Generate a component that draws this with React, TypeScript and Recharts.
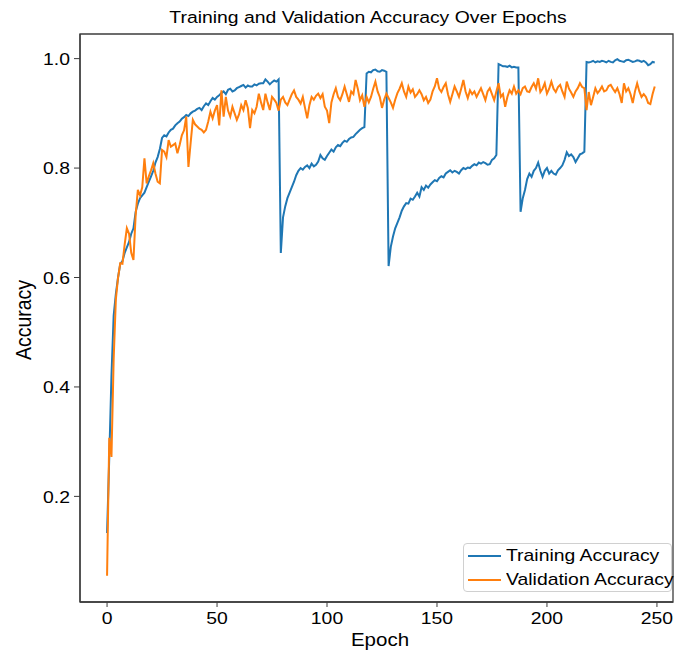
import { Legend, Line, LineChart, ReferenceArea, XAxis, YAxis } from "recharts"

// one value per epoch (0..249)
const trainAccuracy = [
  0.133, 0.27, 0.42, 0.53, 0.57, 0.6, 0.625, 0.63, 0.645, 0.655,
  0.665, 0.68, 0.69, 0.72, 0.735, 0.745, 0.75, 0.755, 0.765, 0.775,
  0.785, 0.795, 0.81, 0.82, 0.835, 0.855, 0.86, 0.858, 0.865, 0.87,
  0.872, 0.878, 0.882, 0.885, 0.89, 0.893, 0.897, 0.895, 0.9, 0.903,
  0.905, 0.908, 0.91, 0.906, 0.913, 0.918, 0.915, 0.922, 0.928, 0.925,
  0.93, 0.933, 0.937, 0.94, 0.935, 0.943, 0.945, 0.94, 0.942, 0.946,
  0.948, 0.95, 0.952, 0.947, 0.951, 0.949, 0.949, 0.953, 0.951, 0.954,
  0.955, 0.955, 0.962, 0.958, 0.953, 0.957, 0.96, 0.958, 0.962, 0.645,
  0.71, 0.73, 0.745, 0.755, 0.765, 0.775, 0.787, 0.795, 0.8, 0.797,
  0.802, 0.805, 0.8, 0.808, 0.803, 0.806, 0.812, 0.824, 0.818, 0.815,
  0.822, 0.828, 0.834, 0.83, 0.838, 0.842, 0.84, 0.846, 0.85, 0.848,
  0.853, 0.856, 0.857, 0.862, 0.866, 0.87, 0.873, 0.875, 0.973, 0.976,
  0.975, 0.979, 0.98, 0.977, 0.976, 0.979, 0.978, 0.976, 0.621, 0.656,
  0.675, 0.69, 0.7, 0.71, 0.722, 0.73, 0.736, 0.735, 0.744, 0.742,
  0.748, 0.755, 0.748, 0.765, 0.76, 0.768, 0.764, 0.77, 0.774, 0.778,
  0.776, 0.782, 0.785, 0.783, 0.79, 0.793, 0.796, 0.792, 0.795, 0.793,
  0.79, 0.796, 0.8, 0.798, 0.801, 0.8, 0.804, 0.807, 0.805, 0.81,
  0.808, 0.811, 0.809, 0.806, 0.807, 0.815, 0.818, 0.824, 0.99, 0.988,
  0.986, 0.986, 0.985, 0.987, 0.984, 0.985, 0.984, 0.984, 0.72, 0.745,
  0.76, 0.78, 0.79, 0.784, 0.795, 0.8, 0.81, 0.795, 0.784, 0.795,
  0.8, 0.79, 0.795, 0.79, 0.788, 0.796, 0.8, 0.805, 0.815, 0.829,
  0.822, 0.825, 0.82, 0.811, 0.818, 0.825, 0.827, 0.83, 0.994, 0.993,
  0.994, 0.996, 0.993, 0.995, 0.994, 0.996, 0.995, 0.993, 0.996, 0.994,
  0.993, 0.997, 0.999, 0.996, 0.995, 0.994, 0.997, 0.998, 0.996, 0.994,
  0.995, 0.997, 0.996, 0.994, 0.996, 0.993, 0.988, 0.99, 0.994, 0.993,
]

const valAccuracy = [
  0.055, 0.307, 0.272, 0.45, 0.56, 0.6, 0.626, 0.625, 0.66, 0.69,
  0.68, 0.645, 0.632, 0.714, 0.76, 0.75, 0.765, 0.818, 0.772, 0.785,
  0.796, 0.809, 0.79, 0.775, 0.772, 0.833, 0.83, 0.82, 0.851, 0.839,
  0.842, 0.845, 0.827, 0.842, 0.86, 0.869, 0.894, 0.802, 0.846, 0.888,
  0.88, 0.876, 0.872, 0.87, 0.865, 0.87, 0.885, 0.903, 0.891, 0.905,
  0.915, 0.878, 0.942, 0.894, 0.93, 0.905, 0.894, 0.912, 0.9, 0.888,
  0.898, 0.915, 0.906, 0.924, 0.91, 0.873, 0.906, 0.9, 0.912, 0.936,
  0.92, 0.906, 0.936, 0.92, 0.906, 0.93, 0.925, 0.919, 0.905, 0.925,
  0.93, 0.92, 0.915, 0.925, 0.935, 0.942, 0.93, 0.925, 0.918, 0.93,
  0.91, 0.891, 0.915, 0.93, 0.925, 0.932, 0.936, 0.928, 0.935, 0.912,
  0.905, 0.882, 0.92, 0.935, 0.946, 0.93, 0.924, 0.935, 0.949, 0.935,
  0.921, 0.94, 0.935, 0.961, 0.945, 0.924, 0.933, 0.912, 0.93, 0.92,
  0.93, 0.945, 0.958, 0.94, 0.93, 0.91, 0.925, 0.936, 0.928, 0.92,
  0.91, 0.925, 0.937, 0.945, 0.955, 0.94, 0.93, 0.949, 0.938, 0.944,
  0.93, 0.935, 0.942, 0.935, 0.924, 0.93, 0.919, 0.925, 0.94, 0.949,
  0.964, 0.945, 0.939, 0.948, 0.955, 0.935, 0.921, 0.935, 0.949, 0.94,
  0.93, 0.945, 0.961, 0.94, 0.928, 0.942, 0.935, 0.94, 0.93, 0.938,
  0.946, 0.935, 0.924, 0.94, 0.946, 0.935, 0.924, 0.94, 0.955, 0.93,
  0.935, 0.912, 0.93, 0.942, 0.936, 0.949, 0.936, 0.942, 0.935, 0.946,
  0.949, 0.94, 0.939, 0.948, 0.955, 0.945, 0.964, 0.939, 0.945, 0.955,
  0.936, 0.945, 0.958, 0.945, 0.939, 0.948, 0.952, 0.94, 0.93, 0.958,
  0.945, 0.938, 0.93, 0.94, 0.946, 0.955, 0.948, 0.946, 0.906, 0.939,
  0.915, 0.93, 0.946, 0.937, 0.942, 0.949, 0.94, 0.942, 0.95, 0.952,
  0.945, 0.939, 0.946, 0.935, 0.919, 0.955, 0.94, 0.946, 0.935, 0.919,
  0.94, 0.955, 0.94, 0.93, 0.935, 0.93, 0.919, 0.917, 0.935, 0.949,
]

const epochTicks = [0, 50, 100, 150, 200, 250]
const accuracyTicks = [0.2, 0.4, 0.6, 0.8, 1.0]

const X_DOMAIN = [-12.3, 257.3]
const Y_DOMAIN = [0.007, 1.045]
const FONT = "Arial, 'Liberation Sans', Helvetica, sans-serif"
const STRETCH = 1.14 // the reference is a bit wider than tall
const BLUE = "#1f77b4"
const ORANGE = "#ff7f0e"
const AXIS = "#3c3c3c"

const data = trainAccuracy.map((train, i) => ({
  epoch: i,
  train,
  val: valAccuracy[i],
}))

function XTick({ x, y, payload }: any) {
  return (
    <text
      transform={`translate(${x},${y}) scale(${STRETCH},1)`}
      textAnchor="middle"
      dy="0.71em"
      fontSize={17}
      fontFamily={FONT}
      fill="#000"
    >
      {payload.value}
    </text>
  )
}

function YTick({ x, y, payload }: any) {
  return (
    <text
      transform={`translate(${x},${y}) scale(${STRETCH},1)`}
      textAnchor="end"
      dy="0.36em"
      fontSize={17}
      fontFamily={FONT}
      fill="#000"
    >
      {Number(payload.value).toFixed(1)}
    </text>
  )
}

function LegendBox() {
  const row = (color: string, label: string, top: number) => (
    <div style={{ position: "absolute", left: 0, top, height: 24, width: "100%" }}>
      <div
        style={{
          position: "absolute",
          left: 4,
          top: 11,
          width: 33,
          height: 2,
          background: color,
        }}
      />
      <div
        style={{
          position: "absolute",
          left: 42,
          top: 2,
          fontSize: 17,
          lineHeight: "20px",
          fontFamily: FONT,
          color: "#000",
          whiteSpace: "nowrap",
          transform: `scaleX(${STRETCH})`,
          transformOrigin: "left center",
        }}
      >
        {label}
      </div>
    </div>
  )
  return (
    <div
      style={{
        position: "relative",
        width: 209,
        height: 49,
        border: "1px solid #d0d0d0",
        borderRadius: 4,
        background: "rgba(255,255,255,0.85)",
        boxSizing: "border-box",
      }}
    >
      {row(BLUE, "Training Accuracy", 0)}
      {row(ORANGE, "Validation Accuracy", 24)}
    </div>
  )
}

export default function App() {
  return (
    <div style={{ position: "absolute", left: 0, top: 0, width: 675, height: 654, background: "#fff" }}>
      <LineChart
        width={675}
        height={654}
        data={data}
        margin={{ top: 34, right: 2, bottom: 0, left: 0 }}
      >
        <XAxis
          dataKey="epoch"
          type="number"
          domain={X_DOMAIN}
          ticks={epochTicks}
          allowDataOverflow
          height={52}
          tickSize={5}
          tickMargin={5}
          tick={<XTick />}
          stroke={AXIS}
          axisLine={{ stroke: AXIS, strokeWidth: 1.3 }}
          tickLine={{ stroke: AXIS }}
        />
        <YAxis
          type="number"
          domain={Y_DOMAIN}
          ticks={accuracyTicks}
          allowDataOverflow
          width={80}
          tickSize={6}
          tickMargin={4}
          tick={<YTick />}
          stroke={AXIS}
          axisLine={{ stroke: AXIS, strokeWidth: 1.3 }}
          tickLine={{ stroke: AXIS }}
        />
        <ReferenceArea
          x1={X_DOMAIN[0]}
          x2={X_DOMAIN[1]}
          y1={Y_DOMAIN[0]}
          y2={Y_DOMAIN[1]}
          fill="none"
          fillOpacity={0}
          stroke={AXIS}
          strokeWidth={1.3}
        />
        <Line
          type="linear"
          dataKey="train"
          name="Training Accuracy"
          stroke={BLUE}
          strokeWidth={2}
          dot={false}
          isAnimationActive={false}
        />
        <Line
          type="linear"
          dataKey="val"
          name="Validation Accuracy"
          stroke={ORANGE}
          strokeWidth={2}
          dot={false}
          isAnimationActive={false}
        />
        <Legend
          layout="vertical"
          align="center"
          verticalAlign="middle"
          content={() => <LegendBox />}
          wrapperStyle={{ left: 463, top: 543, width: 209, height: 49 }}
        />
      </LineChart>
      <svg
        width={675}
        height={654}
        style={{ position: "absolute", left: 0, top: 0, pointerEvents: "none" }}
      >
        <text
          transform={`translate(368,23) scale(${STRETCH},1)`}
          textAnchor="middle"
          fontSize={17}
          fontFamily={FONT}
          fill="#000"
        >
          Training and Validation Accuracy Over Epochs
        </text>
        <text
          transform={`translate(380,646) scale(${STRETCH},1)`}
          textAnchor="middle"
          fontSize={18}
          fontFamily={FONT}
          fill="#000"
        >
          Epoch
        </text>
        <text
          transform={`translate(31,320) scale(${STRETCH},1) rotate(-90)`}
          textAnchor="middle"
          fontSize={19.5}
          fontFamily={FONT}
          fill="#000"
        >
          Accuracy
        </text>
      </svg>
    </div>
  )
}
